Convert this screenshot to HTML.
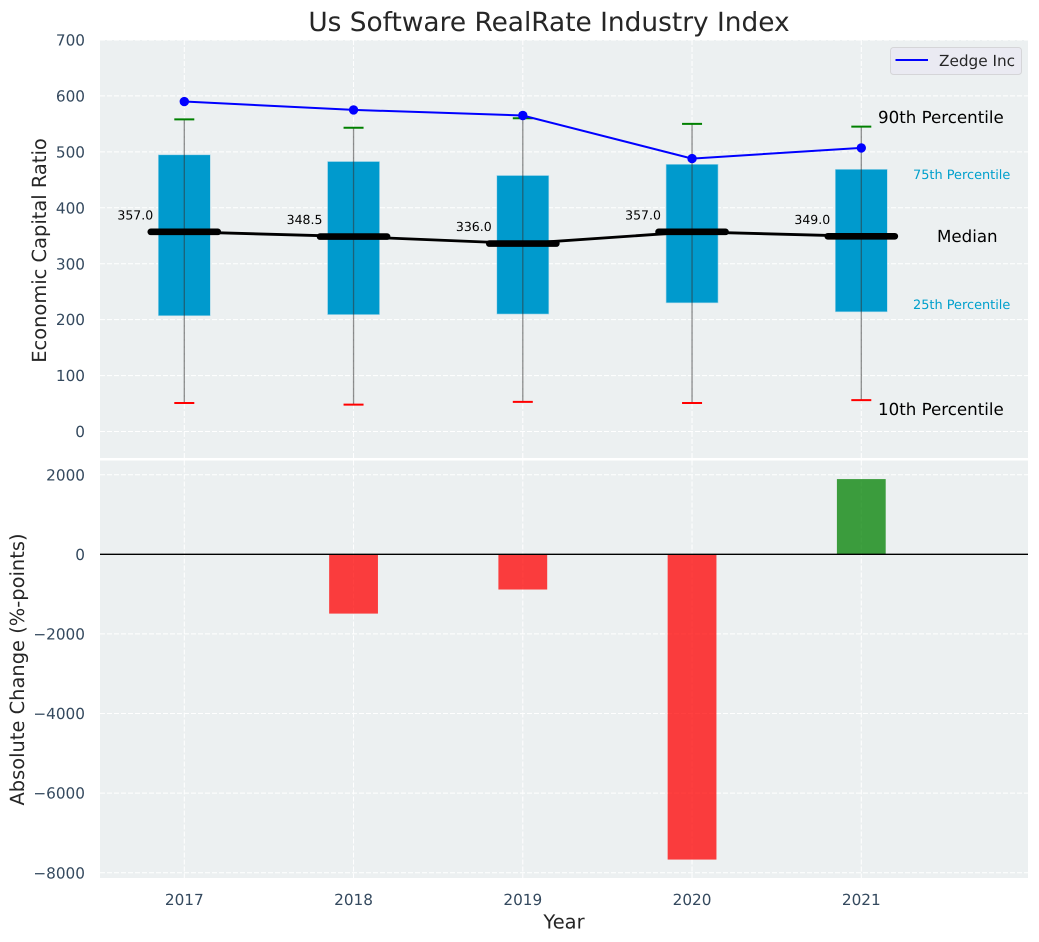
<!DOCTYPE html>
<html>
<head>
<meta charset="utf-8">
<style>
html,body{margin:0;padding:0;background:#fff;width:1039px;height:942px;overflow:hidden}
svg{display:block}
text{font-family:"DejaVu Sans","Liberation Sans",sans-serif;text-rendering:geometricPrecision}
</style>
</head>
<body>
<svg id="chart" width="1039" height="942" viewBox="0 0 1039 942" xmlns="http://www.w3.org/2000/svg">
  <rect x="100" y="40" width="928" height="418" fill="#ecf0f1"/>
  <rect x="100" y="460.5" width="928" height="417.5" fill="#ecf0f1"/>
  <g id="grid"></g>
  <g id="bars"></g>
  <g id="boxes"></g>
  <g id="lines"></g>
  <g id="ticks"></g>
  <text x="549" y="31" font-size="26.39" text-anchor="middle" fill="#262626">Us Software RealRate Industry Index</text>
  <text transform="translate(46,250.5) rotate(-90)" font-size="19.44" text-anchor="middle" fill="#262626">Economic Capital Ratio</text>
  <text transform="translate(24,669.5) rotate(-90)" font-size="19.44" text-anchor="middle" fill="#262626">Absolute Change (%-points)</text>
  <text x="564" y="928.5" font-size="19.44" text-anchor="middle" fill="#262626">Year</text>
  <text x="878" y="123" font-size="16.67" fill="#000">90th Percentile</text>
  <text x="913" y="179" font-size="12.9" fill="#00a0cc">75th Percentile</text>
  <text x="937" y="242" font-size="16.67" fill="#000">Median</text>
  <text x="913" y="309" font-size="12.9" fill="#00a0cc">25th Percentile</text>
  <text x="878" y="415" font-size="16.67" fill="#000">10th Percentile</text>
  <g>
    <rect x="890.5" y="47.5" width="131" height="27" rx="3" fill="#eaeaf2" stroke="#d5d5d8" stroke-width="1"/>
    <line x1="895.5" x2="928" y1="60" y2="60" stroke="#0000ff" stroke-width="2"/>
    <text x="939" y="66" font-size="15.28" fill="#262626">Zedge Inc</text>
  </g>
</svg>
<script>
const years = [2017, 2018, 2019, 2020, 2021];
const zedge = [590, 575, 565, 488, 507];
const p90 = [558, 543, 560, 550, 545];
const p75 = [494, 482, 457, 477, 468];
const median = [357, 348.5, 336, 357, 349];
const p25 = [207, 209, 210, 230, 214];
const p10 = [51, 48, 53, 51, 56];
const change = [0, -1490, -885, -7670, 1890];
const topTicks = [0, 100, 200, 300, 400, 500, 600, 700];
const bottomTicks = [-8000, -6000, -4000, -2000, 0, 2000];

const NS = 'http://www.w3.org/2000/svg';
function x(year) { return 184.3 + (year - 2017) * 169.25; }
function yTop(v) { return 431.5 - v * 0.5593; }
function yBot(v) { return 554.3 - v * 0.0398; }
function make(tag, parent, attrs) {
  const el = document.createElementNS(NS, tag);
  for (const k in attrs) el.setAttribute(k, attrs[k]);
  parent.appendChild(el);
  return el;
}
const grid = document.getElementById('grid');
const bars = document.getElementById('bars');
const boxes = document.getElementById('boxes');
const lines = document.getElementById('lines');
const ticks = document.getElementById('ticks');
const tickColor = '#34495e';
const dash = '5,2';
const tickSize = 15.28;

years.forEach(function (yr) {
  const g1 = make('line', grid, {x1: x(yr), x2: x(yr), y1: 40, y2: 458, stroke: '#fff', 'stroke-width': 1, 'stroke-dasharray': dash});
  
  
  const g2 = make('line', grid, {x1: x(yr), x2: x(yr), y1: 460.5, y2: 878, stroke: '#fff', 'stroke-width': 1, 'stroke-dasharray': dash});
  
  
  const t = make('text', ticks, {x: x(yr), y: 905, 'font-size': tickSize, 'text-anchor': 'middle', fill: tickColor});
  
  
  t.textContent = yr;
});
topTicks.forEach(function (v) {
  const g = make('line', grid, {x1: 100, x2: 1028, y1: yTop(v), y2: yTop(v), stroke: '#fff', 'stroke-width': 1, 'stroke-dasharray': dash});
  
  
  const t = make('text', ticks, {x: 85, y: yTop(v) + 5.6, 'font-size': tickSize, 'text-anchor': 'end', fill: tickColor});
  
  
  t.textContent = v;
});
bottomTicks.forEach(function (v) {
  const g = make('line', grid, {x1: 100, x2: 1028, y1: yBot(v), y2: yBot(v), stroke: '#fff', 'stroke-width': 1, 'stroke-dasharray': dash});
  
  
  const t = make('text', ticks, {x: 85, y: yBot(v) + 5.6, 'font-size': tickSize, 'text-anchor': 'end', fill: tickColor});
  
  
  t.textContent = String(v).replace('-', '\u2212');
});

change.forEach(function (v, i) {
  if (v === 0) return;
  const y0 = yBot(Math.max(v, 0));
  const y1 = yBot(Math.min(v, 0));
  const b = make('rect', bars, {x: x(years[i]) - 24.4, y: y0, width: 48.8, height: y1 - y0, fill: v < 0 ? '#ff0000' : '#008000', 'fill-opacity': 0.75});
  
  
});
const zero = make('line', bars, {x1: 100, x2: 1028, y1: yBot(0), y2: yBot(0), stroke: '#000', 'stroke-width': 1.4});



years.forEach(function (yr, i) {
  const cx = x(yr);
  const b = make('rect', boxes, {x: cx - 26, y: yTop(p75[i]) - 0.4, width: 52, height: yTop(p25[i]) - yTop(p75[i]) + 0.4, fill: '#009acd', stroke: '#a8d8ea', 'stroke-width': 0.6});
  
  
  const w = make('line', boxes, {x1: cx, x2: cx, y1: yTop(p90[i]), y2: yTop(p10[i]), stroke: '#333', 'stroke-opacity': 0.55, 'stroke-width': 1.3});
  
  
  const c1 = make('line', boxes, {x1: cx - 10, x2: cx + 10, y1: yTop(p90[i]), y2: yTop(p90[i]), stroke: '#008000', 'stroke-width': 2});
  
  
  const c2 = make('line', boxes, {x1: cx - 10, x2: cx + 10, y1: yTop(p10[i]), y2: yTop(p10[i]), stroke: '#ff0000', 'stroke-width': 2});
  
  
});

function pathFor(vals) {
  return vals.map(function (v, i) { return (i ? 'L' : 'M') + x(years[i]) + ' ' + yTop(v); }).join(' ');
}
const medLine = make('path', lines, {d: pathFor(median), fill: 'none', stroke: '#000', 'stroke-width': 2.8});


median.forEach(function (v, i) {
  const cx = x(years[i]);
  const m = make('line', lines, {x1: cx - 33.5, x2: cx + 33.5, y1: yTop(v), y2: yTop(v), stroke: '#000', 'stroke-width': 6.7, 'stroke-linecap': 'round'});
  
  
  const t = make('text', lines, {x: cx - 49, y: yTop(v) - 12.5, 'font-size': 12.5, 'text-anchor': 'middle', fill: '#000'});
  
  
  t.textContent = v.toFixed(1);
});
const zLine = make('path', lines, {d: pathFor(zedge), fill: 'none', stroke: '#0000ff', 'stroke-width': 2});


zedge.forEach(function (v, i) {
  const p = make('circle', lines, {cx: x(years[i]), cy: yTop(v), r: 4.7, fill: '#0000ff'});
  
  
});
</script>
</body>
</html>
